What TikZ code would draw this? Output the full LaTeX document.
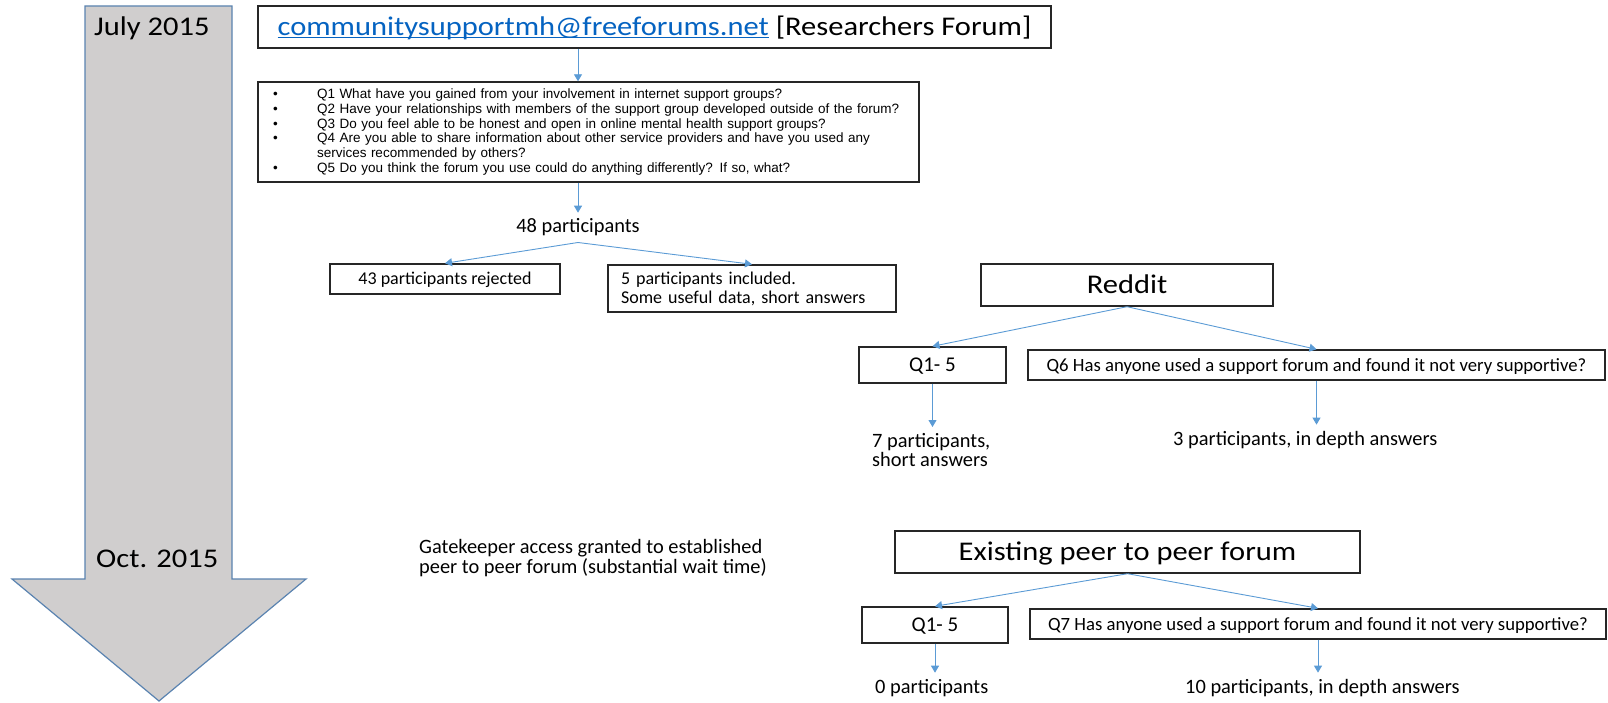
\documentclass[tikz,border=0pt]{standalone}
\usepackage{fontspec}
\setmainfont{Carlito}
\newfontfamily\widefont[FakeStretch=1.13]{Carlito}
\newfontfamily\qfont[WordSpace=1.5]{Liberation Sans}
\usetikzlibrary{arrows.meta,positioning}
\definecolor{arrowblue}{HTML}{5B9BD5}
\definecolor{linkblue}{HTML}{0563C1}
\definecolor{timegray}{HTML}{D0CECE}
\definecolor{timeedge}{HTML}{5A83B0}
\newcommand{\bigsize}{\fontsize{27pt}{30pt}\selectfont}
\newcommand{\midsize}{\fontsize{20.4pt}{19.5pt}\selectfont}
\newcommand{\boxsize}{\fontsize{18pt}{19pt}\selectfont}
\newcommand{\qsize}{\fontsize{13.5pt}{14.8pt}\selectfont}
\newcommand{\ulink}[1]{\setbox0\hbox{#1}\rlap{\rule[-2.6pt]{\wd0}{1.1pt}}\box0}
\newcommand{\qline}[1]{\makebox[46pt][l]{\hspace{2pt}\textbullet}#1}
\begin{document}
\begin{tikzpicture}[
        x=1pt, y=-1pt,
        flowbox/.style={draw=black!85, line width=1.4pt, fill=white, inner sep=0pt},
        onerow/.style={text height=0.75*#1, text depth=0.106*#1},
        txt/.style={inner xsep=0pt, inner ysep=6pt, font=\midsize},
        conn/.style={draw=arrowblue, line width=0.9pt, -{Triangle[width=8pt,length=7pt]}}
    ]
        \useasboundingbox (0,0) rectangle (1608,703);
        % time line
        \filldraw[fill=timegray, draw=timeedge, line width=1.2pt] (85,6) -- (232,6) -- (232,579) -- (306,579)
            -- (159,701) -- (12,579) -- (85,579) -- cycle;
        \node[txt, font=\widefont\bigsize, anchor=base west] (july) at (94,36) {July 2015};
        \node[txt, font=\widefont\bigsize, anchor=base west] (oct) at (96,567) {Oct. 2015};
        % researchers forum
        \node[flowbox, onerow=27pt, minimum width=793pt, minimum height=42pt, font=\widefont\bigsize] (title) at (654.5,27)
            {{\color{linkblue}\ulink{communitysupportmh@freeforums.net}} [Researchers Forum]};
        \node[flowbox, minimum width=661pt, minimum height=100pt, font=\qfont\qsize, align=left,
            text width=635pt, inner xsep=13pt] (questions) at (588.5,132)
            {\qline{Q1 What have you gained from your involvement in internet support groups?}\\
             \qline{Q2 Have your relationships with members of the support group developed outside of the forum?}\\
             \qline{Q3 Do you feel able to be honest and open in online mental health support groups?}\\
             \qline{Q4 Are you able to share information about other service providers and have you used any}\\
             \hspace*{46pt}services recommended by others?\\
             \qline{Q5 Do you think the forum you use could do anything differently? If so, what?}};
        \node[txt, anchor=base] (ppl48) at (578,233) {48 participants};
        \node[flowbox, onerow=18pt, minimum width=230pt, minimum height=30pt, font=\boxsize] (rejected) at (445,279)
            {43 participants rejected};
        \node[flowbox, minimum height=47pt, font=\boxsize, align=left, text width=262pt, inner xsep=13pt] (included)
            at (752,288.5) {5 participants included.\\Some useful data, short answers};
        \draw[conn] (title.south -| ppl48) -- (questions.north -| ppl48);
        \draw[conn] (questions.south -| ppl48) -- (ppl48.north);
        \draw[conn] (ppl48.south) -- (rejected.north);
        \draw[conn] (ppl48.south) -- (included.north);
        % reddit
        \node[flowbox, onerow=27pt, minimum width=292pt, minimum height=42pt, font=\widefont\bigsize] (reddit) at (1127,285) {Reddit};
        \node[flowbox, onerow=21pt, minimum width=147pt, minimum height=36pt, font=\fontsize{21pt}{22pt}\selectfont] (rqa)
            at (932.5,365) {Q1- 5};
        \node[flowbox, onerow=18.7pt, minimum width=577pt, minimum height=30pt, font=\fontsize{18.7pt}{20pt}\selectfont] (rqb)
            at (1316.5,365) {Q6 Has anyone used a support forum and found it not very supportive?};
        \node[txt, anchor=north west, align=left] (ppl7) at (872,427) {7 participants,\\short answers};
        \node[txt, anchor=base west] (ppl3) at (1173,445) {3 participants, in depth answers};
        \draw[conn] (reddit.south) -- (rqa.north);
        \draw[conn] (reddit.south) -- (rqb.north);
        \draw[conn] (rqa.south) -- (rqa.south |- ppl7.north);
        \draw[conn] (rqb.south) -- (rqb.south |- ppl3.north);
        % peer to peer forum
        \node[txt, anchor=north west, align=left, font=\fontsize{20.4pt}{20pt}\selectfont] (gate) at (419,533)
            {Gatekeeper access granted to established\\peer to peer forum (substantial wait time)};
        \node[flowbox, onerow=27pt, minimum width=465pt, minimum height=42pt, font=\widefont\bigsize] (existing)
            at (1127.5,552) {Existing peer to peer forum};
        \node[flowbox, onerow=21pt, minimum width=146pt, minimum height=36pt, font=\fontsize{21pt}{22pt}\selectfont] (eqa)
            at (935,625) {Q1- 5};
        \node[flowbox, onerow=18.7pt, minimum width=576pt, minimum height=30pt, font=\fontsize{18.7pt}{20pt}\selectfont] (eqb)
            at (1318,624) {Q7 Has anyone used a support forum and found it not very supportive?};
        \node[txt, anchor=base west] (ppl0) at (875,693) {0 participants};
        \node[txt, anchor=base west] (ppl10) at (1185,693) {10 participants, in depth answers};
        \draw[conn] (existing.south) -- (eqa.north);
        \draw[conn] (existing.south) -- (eqb.north);
        \draw[conn] (eqa.south) -- (eqa.south |- ppl0.north);
        \draw[conn] (eqb.south) -- (eqb.south |- ppl10.north);
    \end{tikzpicture}
\end{document}
